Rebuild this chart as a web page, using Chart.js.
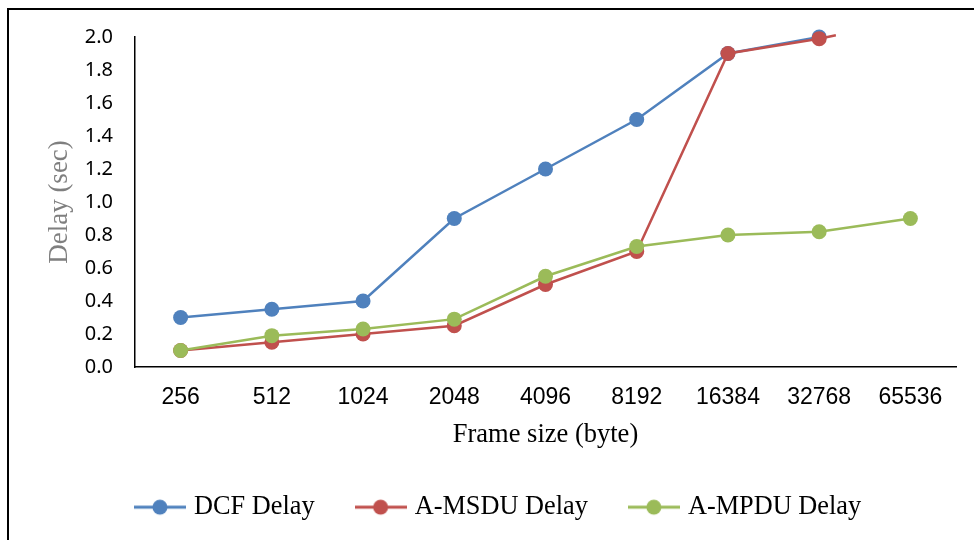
<!DOCTYPE html>
<html>
<head>
<meta charset="utf-8">
<script src="https://cdn.jsdelivr.net/npm/chart.js@4"></script>
<style>
  body { margin: 0; background: #fff; }
  #frame { position: absolute; left: 7px; top: 8px; width: 980px; height: 540px;
           border-left: 2px solid #000; border-top: 2px solid #000; }
  #wrap { position: absolute; left: 0; top: 0; width: 974px; height: 540px; }
</style>
</head>
<body>
<div id="frame"></div>
<div id="wrap"><canvas id="myChart" width="974" height="540"></canvas></div>
<script>
// frame sizes in bytes
const frameSizes = ["256", "512", "1024", "2048", "4096", "8192", "16384", "32768", "65536"];
// delay in seconds
const dcfDelay = [0.30, 0.35, 0.40, 0.90, 1.20, 1.50, 1.90, 2.00, null];
const msduDelay = [0.10, 0.15, 0.20, 0.25, 0.50, 0.70, 1.90, 1.99, 2.10]; // last one runs off the top
const mpduDelay = [0.10, 0.19, 0.23, 0.29, 0.55, 0.73, 0.80, 0.82, 0.90];
const yTicks = [0, 0.2, 0.4, 0.6, 0.8, 1.0, 1.2, 1.4, 1.6, 1.8, 2.0];

const colors = ["#4F81BD", "#C0504D", "#9BBB59"];

// legend marker: short line with a dot in the middle
function makeMarker(color) {
    const c = document.createElement("canvas");
    c.width = 52;
    c.height = 18;
    const g = c.getContext("2d");
    g.strokeStyle = color;
    g.lineWidth = 3;
    g.beginPath();
    g.moveTo(0, 9);
    g.lineTo(52, 9);
    g.stroke();
    g.fillStyle = color;
    g.beginPath();
    g.arc(26, 9, 7.5, 0, Math.PI * 2);
    g.fill();
    return c;
}
const markers = colors.map(makeMarker);

const lastIdx = frameSizes.length - 1;

const ctx = document.getElementById("myChart").getContext("2d");
new Chart(ctx, {
    type: "line",
    data: {
        labels: frameSizes,
        datasets: [
            {
                label: "DCF Delay",
                data: dcfDelay,
                borderColor: colors[0],
                backgroundColor: colors[0],
                order: 3
            },
            {
                label: "A-MSDU Delay",
                data: msduDelay,
                borderColor: colors[1],
                backgroundColor: colors[1],
                pointRadius: frameSizes.map((f, i) => i === lastIdx ? 0 : 7.5),
                // the tail past 32768 is cut by the plot top in the original
                segment: {
                    borderDash: c => c.p1DataIndex === lastIdx ? [17, 300] : undefined
                },
                order: 2
            },
            {
                label: "A-MPDU Delay",
                data: mpduDelay,
                borderColor: colors[2],
                backgroundColor: colors[2],
                order: 1
            }
        ]
    },
    options: {
        responsive: false,
        animation: false,
        clip: false,
        layout: { padding: { left: 44, right: 18, top: 37, bottom: 18 } },
        elements: {
            line: { borderWidth: 2.5, tension: 0 },
            point: { radius: 7.5, hoverRadius: 7.5, borderWidth: 0 }
        },
        scales: {
            x: {
                offset: true,
                grid: { display: false, drawTicks: false },
                border: { display: true, color: "#000", width: 1.5 },
                ticks: {
                    color: "#000",
                    padding: 17,
                    maxRotation: 0,
                    font: { family: "Liberation Sans", size: 23 }
                },
                title: {
                    display: true,
                    text: "Frame size (byte)",
                    color: "#000",
                    padding: { top: 0, bottom: -2 },
                    font: { family: "Liberation Serif", size: 26.5 }
                },
                afterFit: s => { s.height = 82; }
            },
            y: {
                min: 0,
                max: 2,
                grid: { display: false, drawTicks: false },
                border: { display: true, color: "#000", width: 1.5 },
                afterBuildTicks: s => { s.ticks = yTicks.map(v => ({ value: v })); },
                ticks: {
                    color: "#000",
                    padding: 22,
                    callback: v => Number(v).toFixed(1),
                    font: { family: "Noto Sans", size: 20 }
                },
                title: {
                    display: true,
                    text: "Delay (sec)",
                    color: "#7F7F7F",
                    padding: { top: 0, bottom: 0 },
                    font: { family: "Liberation Serif", size: 27 }
                },
                afterFit: s => { s.width = 91; }
            }
        },
        plugins: {
            legend: {
                position: "bottom",
                maxHeight: 73,
                labels: {
                    usePointStyle: true,
                    pointStyleWidth: 42,
                    padding: 45,
                    color: "#000",
                    font: { family: "Liberation Serif", size: 26.3 },
                    sort: (a, b) => a.datasetIndex - b.datasetIndex,
                    generateLabels: chart => {
                        const items = Chart.defaults.plugins.legend.labels.generateLabels(chart);
                        items.forEach(it => { it.pointStyle = markers[it.datasetIndex]; });
                        return items;
                    }
                }
            },
            tooltip: { enabled: false }
        }
    }
});
</script>
</body>
</html>
